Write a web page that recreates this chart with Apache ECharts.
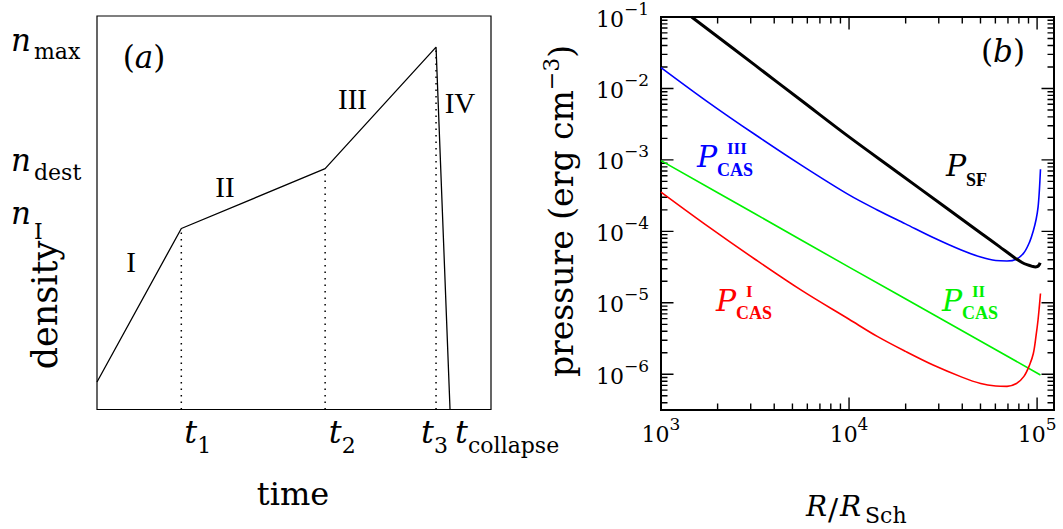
<!DOCTYPE html>
<html><head><meta charset="utf-8">
<script src="https://cdn.jsdelivr.net/npm/echarts@6/dist/echarts.min.js"></script>
<style>html,body{margin:0;padding:0;background:#fff}#c{width:1063px;height:529px}</style>
</head><body><div id="c"></div>
<script>
// ---------- Panel (a): schematic density history ----------
const phaseTimes   = [0, 21.4, 57.9, 86.05, 89.6];     // t0, t1, t2, t3, t_collapse
const phaseDensity = [7.0, 46.0, 61.2, 92.1, 0];       // start, n_I, n_dest, n_max, collapse
const timeTickSubs = ['1', '2', '3', 'collapse'];
const densityTickSubs = ['I', 'dest', 'max'];
const phaseNames = ['I', 'II', 'III', 'IV'];

// ---------- Panel (b): pressure vs R/R_Sch ----------
const rSF  = [1455, 3162, 5623, 10000, 17783, 31623, 50119, 63096, 75858, 83176, 89125, 94406, 97724, 100693, 102802, 103753];
const pSF  = [0.1, 2.118e-2, 6.668e-3, 2.099e-3, 6.950e-4, 2.301e-4, 9.506e-5, 6.109e-5, 4.285e-5, 3.673e-5, 3.388e-5, 3.236e-5, 3.177e-5, 3.236e-5, 3.428e-5, 3.631e-5];
const rCAS = [1000, 1778, 3162, 5623, 10000, 14125, 19953, 28184, 39811, 50119, 60256, 69183, 77625, 85114, 91201, 95499, 98855, 101158, 102802, 104232];
const pCAS3 = [1.963e-2, 6.457e-3, 2.265e-3, 8.318e-4, 3.236e-4, 1.995e-4, 1.274e-4, 8.128e-5, 5.433e-5, 4.365e-5, 3.908e-5, 3.855e-5, 4.083e-5, 5.012e-5, 7.079e-5, 1.023e-4, 1.479e-4, 2.163e-4, 3.715e-4, 7.413e-4];
const pCAS1 = [3.548e-4, 1.175e-4, 4.074e-5, 1.479e-5, 5.888e-6, 3.388e-6, 2.089e-6, 1.334e-6, 9.12e-7, 7.413e-7, 6.839e-7, 6.761e-7, 7.413e-7, 9.333e-7, 1.349e-6, 1.950e-6, 3.548e-6, 5.754e-6, 8.913e-6, 1.349e-5];
const rCAS2 = [1000, 3162, 10000, 31623, 104232];
const pCAS2 = [9.77e-4, 1.76e-4, 3.16e-5, 5.75e-6, 9.77e-7];

const xRange = [1000, 1.23e5];
const yRange = [3.162e-7, 0.1];
const xMajor = [1e3, 1e4, 1e5];
const xMinor = [2e3,3e3,4e3,5e3,6e3,7e3,8e3,9e3, 2e4,3e4,4e4,5e4,6e4,7e4,8e4,9e4];
const yMajor = [1e-6, 1e-5, 1e-4, 1e-3, 1e-2, 1e-1];
const yMinor = [4e-7,5e-7,6e-7,7e-7,8e-7,9e-7,
  2e-6,3e-6,4e-6,5e-6,6e-6,7e-6,8e-6,9e-6,
  2e-5,3e-5,4e-5,5e-5,6e-5,7e-5,8e-5,9e-5,
  2e-4,3e-4,4e-4,5e-4,6e-4,7e-4,8e-4,9e-4,
  2e-3,3e-3,4e-3,5e-3,6e-3,7e-3,8e-3,9e-3,
  2e-2,3e-2,4e-2,5e-2,6e-2,7e-2,8e-2,9e-2];

const L = v => Math.log10(v);
const SERIF = '"DejaVu Serif"';
const TIMES = '"Liberation Serif"';
const BLUE = '#0000ff', RED = '#ff0000', GREEN = '#00f000';

const gridA = { left: 97, top: 16, width: 394, height: 393.5 };
const gridB = { left: 661, top: 16, width: 393, height: 394 };

const expLabel = v => { const e = Math.round(v); return '{b|10}{e|' + (e < 0 ? '\u2212' : '') + Math.abs(e) + '}'; };
const tickRich = {
  b: { fontFamily: SERIF, fontSize: 22, color: '#000', lineHeight: 38, verticalAlign: 'middle' },
  e: { fontFamily: SERIF, fontSize: 17, color: '#000', lineHeight: 17, verticalAlign: 'top' }
};

const xLo = L(xRange[0]), xHi = L(xRange[1]), yLo = L(yRange[0]), yHi = L(yRange[1]);
const xAxes = [
  { gridIndex: 0, type: 'value', min: 0, max: 100, show: false },
  { gridIndex: 1, type: 'value', position: 'bottom', min: xLo, max: xHi,
    axisLine: { show: false }, splitLine: { show: false }, axisTick: { show: false },
    axisLabel: { show: true, customValues: xMajor.map(L), formatter: expLabel, rich: tickRich, margin: 5, color: '#000' } }
];
const yAxes = [
  { gridIndex: 0, type: 'value', min: 0, max: 100, show: false },
  { gridIndex: 1, type: 'value', position: 'left', min: yLo, max: yHi,
    axisLine: { show: false }, splitLine: { show: false }, axisTick: { show: false },
    axisLabel: { show: true, customValues: yMajor.map(L), formatter: expLabel, rich: tickRich, margin: 12, color: '#000', padding: [4, 0, 0, 0] } }
];

const pairs = (xs, ys) => xs.map((x, i) => [L(x), L(ys[i])]);

const series = [
  { type: 'line', xAxisIndex: 0, yAxisIndex: 0, symbol: 'none', silent: true,
    data: phaseTimes.map((t, i) => [t, phaseDensity[i]]),
    lineStyle: { color: '#000', width: 1.3 } }
];
for (let i = 1; i <= 3; i++) {
  series.push({ type: 'line', xAxisIndex: 0, yAxisIndex: 0, symbol: 'none', silent: true,
    data: [[phaseTimes[i], 0], [phaseTimes[i], phaseDensity[i]]],
    lineStyle: { color: '#000', width: 1.5, type: [1.5, 5] } });
}

// tick marks of panel (b): short two-point line series in data space (length converted from pixels)
const dxPerPx = (xHi - xLo) / gridB.width, dyPerPx = (yHi - yLo) / gridB.height;
function tickLine(p1, p2) {
  return { type: 'line', xAxisIndex: 1, yAxisIndex: 1, symbol: 'none', silent: true, z: 3,
    data: [p1, p2], lineStyle: { color: '#000', width: 1.4 } };
}
function addXTicks(values, len) {
  values.forEach(v => {
    const x = L(v);
    series.push(tickLine([x, yLo], [x, yLo + len * dyPerPx]));
    series.push(tickLine([x, yHi], [x, yHi - len * dyPerPx]));
  });
}
function addYTicks(values, len) {
  values.forEach(v => {
    const y = L(v);
    series.push(tickLine([xLo, y], [xLo + len * dxPerPx, y]));
    series.push(tickLine([xHi, y], [xHi - len * dxPerPx, y]));
  });
}
addXTicks(xMajor, 12.5);
addXTicks(xMinor, 6.5);
addYTicks(yMajor, 12.5);
addYTicks(yMinor, 6.5);

const curve = (xs, ys, color, w) => ({ type: 'line', xAxisIndex: 1, yAxisIndex: 1, symbol: 'none', silent: true, z: 4,
  smooth: 0.35, data: pairs(xs, ys), lineStyle: { color: color, width: w } });
series.push(curve(rCAS2, pCAS2, GREEN, 1.6));
series.push(curve(rCAS, pCAS1, RED, 1.6));
series.push(curve(rCAS, pCAS3, BLUE, 1.6));
series.push(curve(rSF, pSF, '#000', 3));

const chart = echarts.init(document.getElementById('c'), null, { renderer: 'svg' });
chart.setOption({
  animation: false,
  grid: [
    Object.assign({ show: true, borderColor: '#000', borderWidth: 1.2 }, gridA),
    Object.assign({ show: true, borderColor: '#000', borderWidth: 2 }, gridB)
  ],
  xAxis: xAxes,
  yAxis: yAxes,
  series: series
});

// ---------- annotations ----------
const g = [];
function T(x, baseline, text, size, opts) {
  const k = (opts && opts.k) || 0.35;
  const st = Object.assign({ text: text, fill: '#000', align: 'left', verticalAlign: 'middle',
    fontFamily: SERIF, fontSize: size }, opts || {});
  delete st.k;
  return { type: 'text', silent: true, x: x, y: baseline - k * size, style: st };
}
// panel (a)
g.push({ type: 'text', silent: true, x: 144, y: 57, style: { text: '{p|(}{i|a}{p|)}', align: 'center', verticalAlign: 'middle',
  rich: { p: { fontFamily: SERIF, fontSize: 31, color: '#000' }, i: { fontFamily: SERIF, fontStyle: 'italic', fontSize: 31, color: '#000' } } } });
const romanPos = [[131, 271.7], [225, 196.7], [352.5, 109], [460, 113]];
phaseNames.forEach((n, i) => g.push(T(romanPos[i][0], romanPos[i][1], n, 29, { fontFamily: TIMES, align: 'center', k: 0.34 })));
const px = (t, n) => chart.convertToPixel({ xAxisIndex: 0, yAxisIndex: 0 }, [t, n]);
const nDy = [-4.3, 1.7, 3.8], nSubDy = [15, 10, 8.5];
densityTickSubs.forEach((s, j) => {
  const y = px(0, phaseDensity[j + 1])[1];
  const bl = y + nDy[j];
  g.push(T(11, bl, 'n', 31, { fontStyle: 'italic' }));
  g.push(T(34, bl + nSubDy[j], s, 22));
});
const tDx = [3, 3.6, -15, 5], tSubDx = [13, 13, 13, 13];
timeTickSubs.forEach((s, j) => {
  const x = px(phaseTimes[j + 1], 0)[0] + tDx[j];
  g.push(T(x, 443, 't', 32, { fontStyle: 'italic' }));
  g.push(T(x + tSubDx[j], 453, s, 22));
});
g.push(T(293, 505, 'time', 32, { align: 'center' }));
g.push({ type: 'text', silent: true, x: 45, y: 305, rotation: Math.PI / 2,
  style: { text: 'density', align: 'center', verticalAlign: 'middle', fontFamily: SERIF, fontSize: 35, fill: '#000' } });

// panel (b)
g.push({ type: 'text', silent: true, x: 1003, y: 51, style: { text: '{p|(}{i|b}{p|)}', align: 'center', verticalAlign: 'middle',
  rich: { p: { fontFamily: SERIF, fontSize: 31, color: '#000' }, i: { fontFamily: SERIF, fontStyle: 'italic', fontSize: 31, color: '#000' } } } });
g.push({ type: 'text', silent: true, x: 561, y: 211, rotation: Math.PI / 2,
  style: { text: '{a|pressure (erg cm}{s|\u22123}{a|)}', align: 'center', verticalAlign: 'middle',
    rich: { a: { fontFamily: SERIF, fontSize: 33, color: '#000', lineHeight: 42, verticalAlign: 'middle' },
            s: { fontFamily: SERIF, fontSize: 22, color: '#000', lineHeight: 21, verticalAlign: 'top' } } } });
g.push(T(806, 516, 'R', 28, { fontStyle: 'italic' }));
g.push(T(828, 520, '/', 30));
g.push(T(840, 516, 'R', 28, { fontStyle: 'italic' }));
g.push(T(865, 523, 'Sch', 22));

function pLabel(x, bl, color, sup, supX, subText, subX, subBl, supBl) {
  g.push(T(x, bl, 'P', 30, { fontStyle: 'italic', fill: color }));
  if (sup) g.push(T(supX, supBl, sup, 17, { fontFamily: TIMES, fontWeight: 'bold', fill: color, k: 0.34 }));
  g.push(T(subX, subBl, subText, 18, { fontFamily: TIMES, fontWeight: 'bold', fill: color, k: 0.34 }));
}
pLabel(697, 167, BLUE, 'III', 727, 'CAS', 717, 176, 154);
pLabel(946, 176, '#000', null, 0, 'SF', 966, 186, 0);
pLabel(716, 311, RED, 'I', 746, 'CAS', 736, 319, 297);
pLabel(942, 311, GREEN, 'II', 972, 'CAS', 962, 319, 297);

chart.setOption({ graphic: g });
</script>
</body></html>
